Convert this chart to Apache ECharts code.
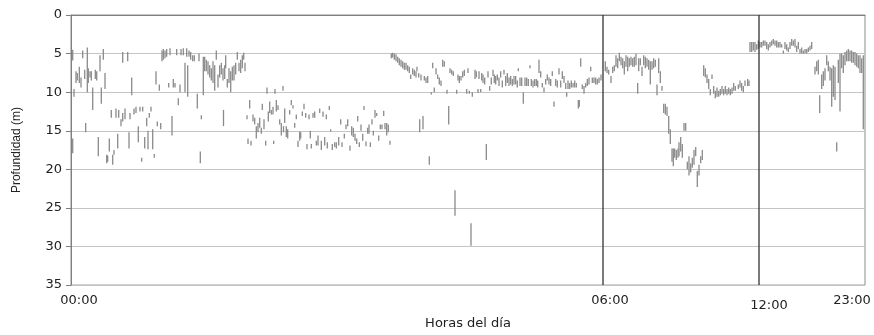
<!DOCTYPE html>
<html>
<head>
<meta charset="utf-8">
<script src="https://cdn.jsdelivr.net/npm/echarts@6/dist/echarts.min.js"></script>
<style>
html,body{margin:0;padding:0;background:#fff;}
#main{width:874px;height:335px;}
</style>
</head>
<body>
<div id="main"></div>
<script>
// cada inmersión: [orden en la secuencia, profundidad mínima (m), profundidad máxima (m)]
var tramo1 = [
  [1.7,4.5,5.9],[1.7,16.0,17.9],[3,9.6,10.6],[5,7.3,8.8],[6.3,7.5,8.5],[8.3,6.7,8.8],[10,8.1,9.4],
  [11.7,4.6,5.6],[13.7,7.1,8.3],[14.7,14.0,15.2],[16.3,4.2,10.0],[17.3,6.9,8.8],[19,7.3,8.1],
  [20.3,7.3,8.5],[21.7,9.4,12.3],[24.3,7.1,8.3],[25.7,7.3,8.5],[27.3,15.8,18.3],[29,5.2,7.3],
  [30.3,9.4,11.5],[32.3,4.4,5.8],[34,7.5,9.6],[35.7,18.1,19.2],[36.7,18.2,19.0],[38.3,16.0,17.7],
  [40.3,12.3,13.3],[41.7,18.1,19.4],[43,17.5,18.1],[45,12.1,13.3],[46.7,15.4,17.3],[47.7,12.3,13.3],
  [50,13.5,14.4],[51.7,4.8,6.2],[51.7,12.7,13.8],[54,12.1,13.5],[56.7,4.8,6.0],[58,15.2,17.3],
  [59,12.7,13.5],[60.7,8.1,10.4],[63,12.1,12.9],[65,11.9,12.7],[67.3,14.4,16.5],[69,11.9,12.5],
  [70.7,18.5,19.0],[71.7,11.9,12.5],[73.7,15.8,17.3],[75.7,13.3,14.4],[77,15.0,17.4],[78.3,12.7,13.3],
  [80,11.9,12.5],[81.7,14.8,17.4],[83.3,18.0,18.5],[85,7.3,9.0],[86.3,13.8,14.4],[88.3,9.0,9.8],
  [89.7,14.0,14.8],[91,4.6,6.0],[92.3,4.4,5.8],[94,4.6,5.6],[95.7,4.4,5.4],[97.7,8.8,9.4],[99,4.3,5.2],
  [101,13.1,15.6],[102.3,8.3,9.4],[104,8.8,9.4],[105.7,4.4,5.2],[107.3,10.8,11.7],[109,9.0,10.0],
  [110,4.4,5.2],[112.3,4.3,5.2],[114,6.2,10.0],[115.7,4.3,5.4],[116.7,6.5,10.6],[118,4.6,5.4],
  [119.7,4.8,5.8],[121.7,5.2,6.0],[123.3,5.2,6.0],[126.3,10.2,12.1],[128,5.0,6.0],[129.3,17.7,19.2],
  [130.3,13.0,13.5],[132.3,5.4,10.4]
];
var tramo2 = [
  [133.7,5.4,7.3],[135.3,5.8,7.3],[137,6.0,7.7],[138.7,6.5,8.1],[140.3,6.9,8.5],[142,6.0,8.8],
  [143.7,6.5,9.8],[145.3,4.6,5.8],[147,7.7,9.4],[148.7,6.5,8.1],[150.3,6.2,7.7],[152,6.9,8.5],
  [152.5,12.3,14.4],[153.7,6.5,8.3],[154.7,5.2,6.9],[156.3,8.3,9.4],[158,6.9,8.8],[159.7,7.3,10.0],
  [161.3,6.7,8.5],[163,6.5,8.5],[164.7,6.2,7.7],[166.3,4.8,5.8],[168,6.2,7.3],[169.7,5.8,7.5],
  [171.3,5.2,6.9],[172.7,4.9,5.8],[174,6.2,7.3],[176,13.0,13.5],[177,16.0,16.7],[178.7,11.0,12.1],
  [180,16.3,16.9],[182,12.9,13.8],[183.7,13.3,14.2],[185.3,14.4,16.0],[187,14.0,15.2],[188.7,13.3,14.6],
  [190.3,14.6,15.4],[191.3,11.5,12.3],[193,13.5,14.8],[194.7,16.3,16.9],[196,9.4,10.2],[197.3,12.5,13.8],
  [198.7,11.2,12.7],[200.3,12.3,12.9],[202,11.9,12.9],[202.7,16.3,16.7],[204,9.6,10.2],[205.3,11.0,12.5],
  [207,11.7,12.3],[208.7,13.5,14.2],[210.3,14.0,15.6],[212,9.2,9.8],[212.5,14.4,15.2],[213.7,12.1,14.0],
  [215.3,14.4,15.8],[216.7,14.8,16.0],[218.7,12.3,12.9],[220.3,11.0,11.7],[222,11.7,12.1],[223.7,14.0,14.6],
  [225.3,12.9,13.5],[227,16.3,17.1],[228.7,15.1,16.3],[229.7,15.2,16.0],[231.3,12.5,13.1],[233,11.5,12.2],
  [234.7,12.7,13.3],[236,16.7,17.4],[238,12.9,13.5],[239.3,15.0,16.0],[240.3,16.7,17.3],[242,12.7,13.3],
  [243.7,12.5,13.3],[245.3,16.3,16.9],[247,15.6,16.9],[248.7,12.1,12.7],[250.3,16.3,17.5],[252,12.5,13.2],
  [253.7,15.8,16.9],[255.3,12.9,13.5],[256.3,16.5,17.3],[258.3,11.8,12.3],[259.7,14.8,15.1],[261.3,16.7,17.5],
  [263.7,16.5,17.1],[265.3,16.5,17.3]
];
var tramo3 = [
  [267.7,15.8,16.9],[269.7,13.5,14.2],[271,16.5,17.1],[273.3,15.4,16.0],[275,14.2,14.8],[276.7,13.5,14.4],
  [279,16.9,17.6],[280.7,14.4,15.6],[282.3,14.6,15.8],[284,15.4,16.3],[285.7,16.0,16.7],[286.7,13.1,13.8],
  [288.3,16.5,17.1],[290,14.2,15.0],[291.7,15.4,16.3],[293,11.8,12.3],[295,16.4,17.0],[296.7,14.6,15.4],
  [298,14.2,15.4],[299.3,16.5,17.1],[301,13.5,14.2],[302.3,15.0,15.6],[304,12.3,13.3],[305.7,12.7,13.1],
  [307.7,15.6,16.3],[309.3,14.2,14.8],[311,14.2,14.8],[312.7,12.4,13.1],[314,14.0,14.8],[315.7,14.0,15.6],
  [317.3,14.2,15.2],[319,16.3,16.8],[320.3,5.0,5.6],[321.7,4.9,5.5],[323.3,5.0,5.8],[325,5.1,6.0],
  [326.7,5.4,6.2],[328.3,5.6,6.5],[330,5.8,6.7],[331.7,6.0,6.9],[333.3,6.2,7.1],[335,6.2,7.1],
  [336.7,6.5,7.3],[338.3,6.7,7.5],[339.7,7.7,8.3],[341.7,6.9,7.7],[343.3,7.1,7.9],[345,7.3,8.1],
  [346,6.7,7.3],[347.7,7.5,8.1],[348.7,13.5,15.2],[350,7.7,8.5],[352,13.1,14.8],[353.3,7.9,8.5],
  [355,8.1,8.8],[356.7,7.9,8.8],[358.3,18.3,19.4],[360.3,10.0,10.3],[361.7,6.2,6.9],[363.3,9.4,10.0],
  [365,6.9,7.7],[366.7,7.7,8.3],[368.3,8.1,9.0],[370,8.5,9.2],[371.7,5.8,6.7],[373.3,6.0,6.7],
  [376,9.7,10.2],[377.7,11.8,14.2],[379,6.9,7.5],[380.7,7.1,7.7],[382.3,7.3,7.9],[384,22.7,26.0],
  [385.7,9.7,10.2],[387,7.7,8.5],[388.3,7.9,8.8],[390,7.9,8.5],[391.7,7.3,8.1],[393.3,7.1,7.9],
  [395.7,9.6,10.2],[397,6.9,7.5],[398.3,9.8,10.2],[400,27.0,29.9]
];
var tramo4 = [
  [401.3,10.0,10.6],[404,7.1,8.3],[405.3,7.3,8.1],[407,9.6,10.1],[408,7.3,8.3],[409.7,9.6,10.0],
  [410.7,7.5,8.5],[412,7.7,8.8],[413.7,8.1,9.0],[415.3,16.7,18.8],[417,7.3,8.1],[418.7,9.2,9.8],
  [420.3,8.1,9.0],[422,7.1,7.9],[423.3,7.7,8.8],[424.7,7.9,9.0],[426.3,7.7,8.5],[428,8.1,9.2],
  [429.7,7.3,8.1],[431.3,8.5,9.4],[433,7.1,7.7],[434.7,7.9,9.2],[436.3,7.5,8.8],[438,8.1,9.2],
  [439.7,7.9,9.0],[441.3,8.3,9.2],[443,7.9,9.0],[444.7,7.9,9.0],[446.3,8.5,9.4],[447.3,6.9,7.3],
  [449,8.1,9.2],[450.7,8.1,9.2],[452.3,10.0,11.5],[454,8.1,9.2],[455.7,8.1,9.2],[457.3,8.3,9.2],
  [459,6.5,6.9],[460.3,8.3,9.2],[462,8.5,9.4],[463.7,8.3,9.2],[465.3,8.3,9.2],[466.7,8.5,9.4],
  [468,5.8,7.5],[469.7,7.3,8.1],[471.3,8.8,9.4],[473,9.4,10.0],[474.7,8.3,9.0],[476.3,7.7,8.5],
  [478,8.1,9.0],[479.7,8.3,9.2],[481.3,7.3,7.9],[483,11.2,11.9],[484.7,8.3,9.2],[486.3,8.5,9.4],
  [488,6.9,7.7],[489.7,8.5,9.4],[491.3,7.3,8.3],[493,7.9,8.8],[494.7,8.8,9.6],[495.7,10.0,10.6],
  [497,8.5,9.6],[498.7,8.8,9.6],[500.3,8.5,9.4],[502,8.8,9.4],[503.7,8.5,9.4],[505.3,8.8,9.4],
  [507.3,11.0,12.1],[508.3,11.0,11.9],[509.7,5.6,6.7],[511.3,9.0,9.6],[513,9.2,10.2],[514.7,8.8,9.4],
  [516.3,8.3,9.2],[518,8.1,9.0],[519.7,6.7,7.3],[521.3,8.1,8.8],[523,8.1,8.8],[524.7,8.1,9.0],
  [526.3,8.3,9.0],[528,8.1,8.8],[530,7.7,8.5]
];
var tramo5 = [
  [534.3,6.0,7.3],[536,6.7,7.5],[537.7,7.1,7.7],[540,7.9,8.8],[541.7,6.7,7.5],[543.3,6.5,7.3],
  [545,5.2,6.7],[546.7,5.6,6.9],[548.3,4.9,6.0],[550,5.4,6.5],[551.7,5.6,6.9],[553.3,6.0,7.7],
  [555,5.2,6.7],[556.7,5.4,7.3],[558.3,5.6,6.7],[560,5.4,6.5],[561.7,5.6,6.7],[563.3,5.4,6.7],
  [565,5.0,6.5],[566.7,8.8,10.2],[567.7,5.6,7.3],[569.3,5.6,6.5],[571,6.7,7.9],[572.7,5.2,6.5],
  [574.3,5.4,6.9],[576,5.6,6.7],[577.7,5.8,7.1],[579.3,6.0,9.0],[581,6.0,7.1],[582.7,5.6,6.9],
  [584.3,5.8,6.7],[586,9.0,10.4],[587.7,5.6,7.5],[589.3,7.3,8.8],[591,9.2,9.8],[592.7,11.5,12.7],
  [594.3,11.5,12.9],[596,11.9,13.1],[597.7,13.1,15.4],[599.3,14.8,16.7],[601,17.3,19.0],[602.3,17.3,19.6],
  [603.7,17.3,18.5],[605.3,17.5,18.8],[607,17.3,18.5],[608,16.5,18.3],[609.7,15.8,17.7],[611.3,16.7,18.5],
  [613,14.0,15.0],[614.7,14.0,15.0],[616.3,19.0,20.0],[618,18.3,20.8],[619.7,19.2,20.4],[621.3,18.5,19.8],
  [623,17.5,19.4],[624.7,17.1,18.3],[626.3,20.2,22.3],[628,19.4,20.8],[629.7,18.3,19.2],[631.3,17.5,18.8],
  [632.7,6.5,7.9],[634.3,6.9,8.1],[636,7.7,8.8],[637.7,8.3,9.6],[639.3,9.6,10.4],[641,7.7,8.3],
  [642.7,9.2,10.2],[644.3,9.8,10.8],[646,9.4,10.6],[647.7,9.8,10.6],[649.3,9.6,10.4],[651,9.2,10.2],
  [652.7,9.6,10.4],[654.3,9.2,10.2],[656,9.6,10.4],[657.7,9.4,10.2],[659.3,9.6,10.4],[661,9.4,10.2],
  [662.7,8.8,9.8],[664.3,9.2,9.8]
];
var tramo6 = [
  [667.3,9.0,9.6],[669,8.5,9.4],[670.7,8.8,9.8],[672.3,9.2,10.0],[674,8.5,9.2],[676.7,8.3,9.2],
  [678,8.5,9.2],[679,3.5,4.8],[680.7,3.5,4.8],[682.3,3.5,4.6],[684,3.5,4.8],[685.7,3.8,4.5],
  [687.3,3.3,4.4],[689,3.5,4.2],[690.7,3.5,4.2],[692.3,3.3,4.0],[694,3.3,4.0],[695.7,3.5,4.4],
  [697.3,3.8,4.6],[699,3.5,4.2],[700.7,3.3,4.0],[702.3,3.1,3.8],[704,3.3,4.0],[705.7,3.3,4.2],
  [707.3,3.5,4.2],[709,3.5,4.2],[710.7,3.8,4.2],[712.3,4.6,5.0],[714,3.5,4.4],[715.7,3.8,4.6],
  [717.3,4.2,4.8],[719,3.5,4.4],[720.7,3.1,4.0],[722.3,3.3,4.0],[724,3.1,4.2],[725.7,4.0,4.8],
  [727.3,3.5,4.4],[729,4.4,5.0],[730.7,4.2,5.0],[732.3,4.6,5.0],[734,4.4,5.0],[735.7,4.4,5.0],
  [737.3,4.2,4.8],[739,4.0,4.6],[740.7,3.5,4.4],[744,6.7,7.7],[745.7,6.0,7.3],[747.3,5.8,7.7],
  [748.7,10.4,12.7],[750.7,7.7,9.6],[752.3,7.3,9.2],[754,6.9,8.5],[755.7,5.2,6.5],[757.3,6.0,7.3],
  [759,6.7,8.5],[760.7,6.9,11.9],[762.3,6.5,10.6],[764,6.7,11.0],[765.7,16.5,17.7],[767.3,5.8,8.8],
  [769,5.0,12.5],[770.7,5.0,6.9],[772.3,5.2,7.5],[774,4.8,6.5],[775.7,4.6,6.0],[777.3,4.4,6.0],
  [779,4.6,6.0],[780.7,4.6,6.2],[782.3,4.8,6.2],[784,4.8,6.5],[785.7,5.0,6.7],[787.3,5.2,6.9],
  [789,5.2,7.5],[790.7,5.6,7.5],[792.3,5.2,14.8]
];

// ejes
var ordenMax = 794;
var lineasHora = [532, 688];          // 06:00 y 12:00
var posEtiquetas = [8, 539, 698, 781];
var etiquetasHora = ['00:00', '06:00', '12:00', '23:00'];

var inmersiones = tramo1.concat(tramo2, tramo3, tramo4, tramo5, tramo6);

var myChart = echarts.init(document.getElementById('main'));

var option = {
  animation: false,
  grid: {
    left: 71, right: 9, top: 15, bottom: 41,
    show: true,
    borderColor: '#8c8c8c',
    borderWidth: 1
  },
  xAxis: {
    type: 'value',
    min: 0,
    max: ordenMax,
    name: 'Horas del día',
    nameLocation: 'middle',
    nameGap: 30,
    nameTextStyle: { fontFamily: 'DejaVu Sans', fontSize: 13, color: '#222' },
    axisLine: { show: true, lineStyle: { color: '#7f7f7f', width: 1 } },
    axisTick: { show: false },
    splitLine: { show: false },
    axisLabel: {
      customValues: posEtiquetas,
      margin: 9,
      fontFamily: 'DejaVu Sans',
      fontSize: 13,
      color: '#222',
      formatter: function (v) {
        var i = posEtiquetas.indexOf(v);
        if (i < 0) return '';
        if (etiquetasHora[i] == '12:00') return '{bajo|' + etiquetasHora[i] + '}';
        return etiquetasHora[i];
      },
      rich: {
        bajo: { fontFamily: 'DejaVu Sans', fontSize: 13, color: '#222', padding: [5, 0, 0, 0] }
      }
    }
  },
  yAxis: {
    type: 'value',
    inverse: true,
    min: 0,
    max: 35,
    interval: 5,
    name: 'Profundidad (m)',
    nameLocation: 'middle',
    nameGap: 48,
    nameTextStyle: { fontFamily: 'Liberation Sans', fontSize: 12, color: '#222' },
    axisLine: { show: true, lineStyle: { color: '#7f7f7f', width: 1 } },
    axisTick: { show: true, length: 5, lineStyle: { color: '#7f7f7f' } },
    axisLabel: { margin: 9, fontFamily: 'DejaVu Sans', fontSize: 13, color: '#222' },
    splitLine: { show: true, lineStyle: { color: '#c4c4c4', width: 1 } }
  },
  series: [
    {
      type: 'custom',
      name: 'inmersiones',
      silent: true,
      data: inmersiones,
      encode: { x: 0, y: [1, 2] },
      renderItem: function (params, api) {
        var a = api.coord([api.value(0), api.value(1)]);
        var b = api.coord([api.value(0), api.value(2)]);
        return {
          type: 'line',
          shape: { x1: a[0], y1: a[1], x2: b[0], y2: b[1] },
          style: { stroke: '#8a8a8a', lineWidth: 1.3 }
        };
      }
    },
    {
      type: 'custom',
      name: 'horas',
      silent: true,
      data: lineasHora.map(function (x) { return [x]; }),
      encode: { x: 0 },
      renderItem: function (params, api) {
        var a = api.coord([api.value(0), 0]);
        var b = api.coord([api.value(0), 35]);
        return {
          type: 'line',
          shape: { x1: a[0], y1: a[1], x2: b[0], y2: b[1] },
          style: { stroke: '#333', lineWidth: 1.3 }
        };
      }
    }
  ]
};

myChart.setOption(option);
</script>
</body>
</html>
